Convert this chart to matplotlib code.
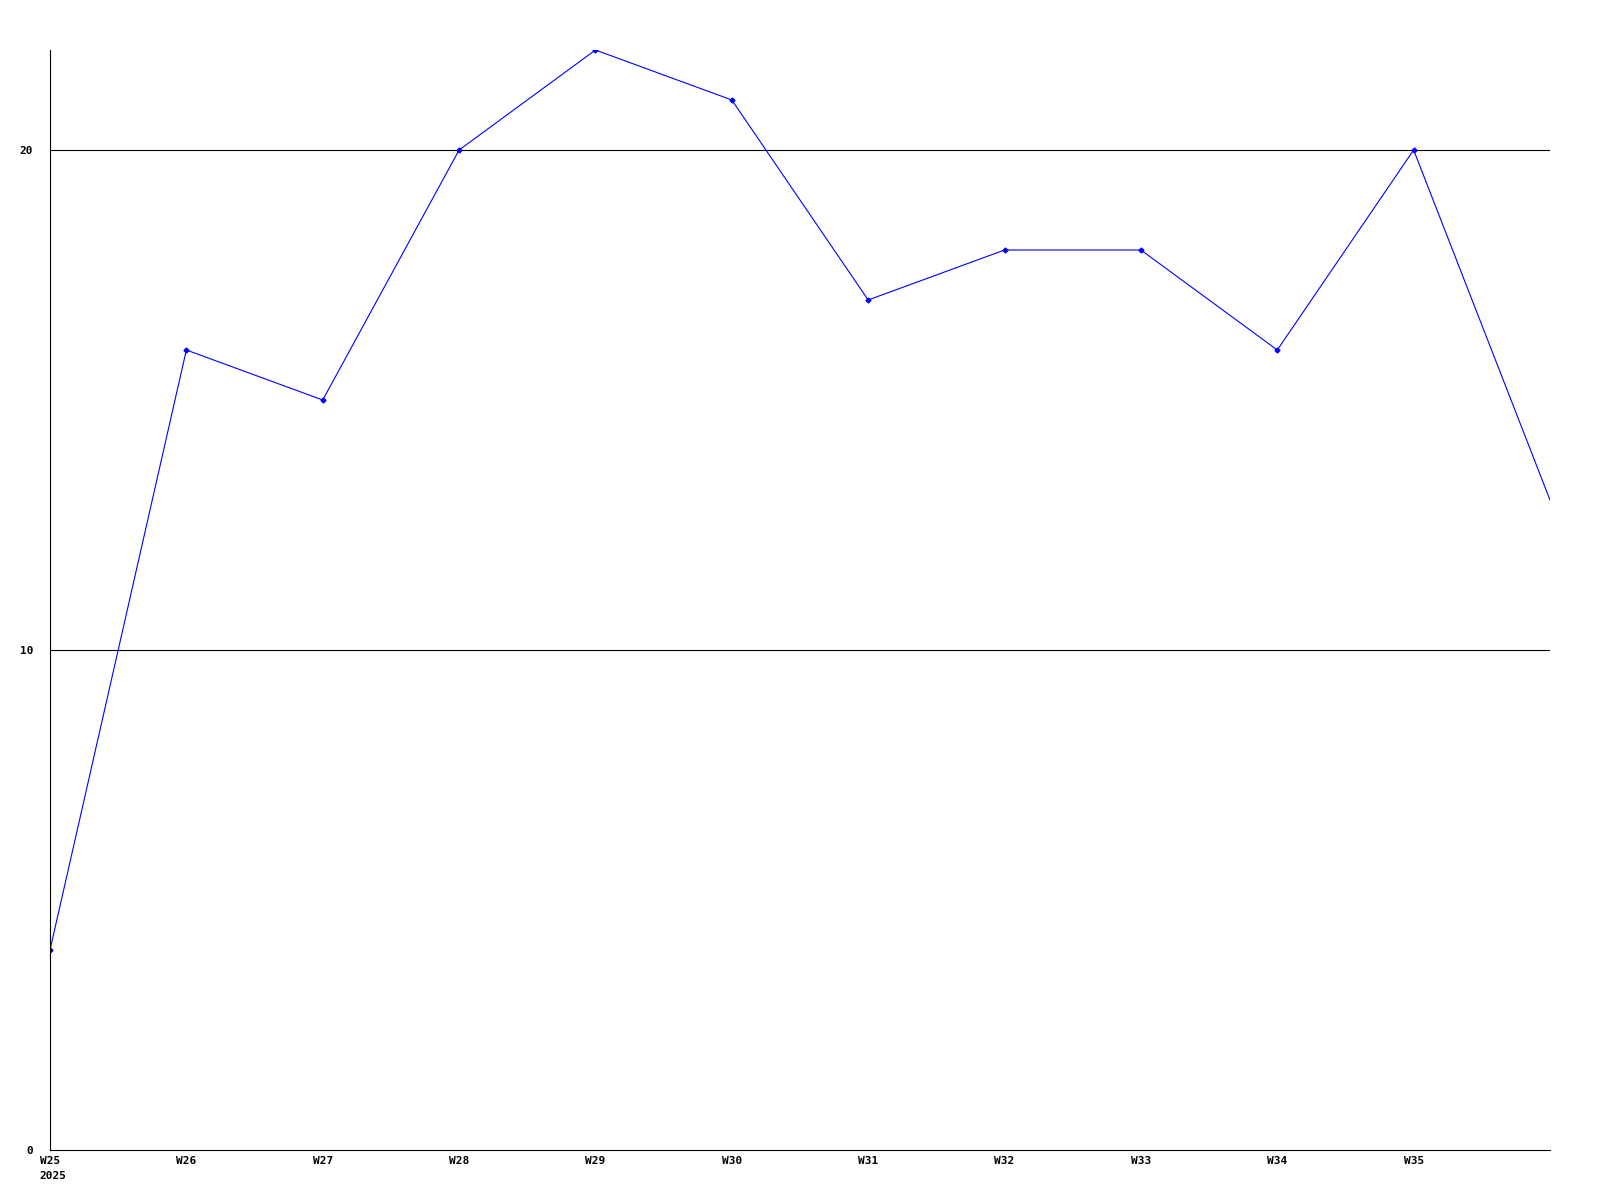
import matplotlib
matplotlib.use("Agg")
import matplotlib.pyplot as plt
from matplotlib.transforms import offset_copy

weeks = ["W25", "W26", "W27", "W28", "W29", "W30", "W31", "W32", "W33", "W34", "W35", "W36"]
values = [4, 16, 15, 20, 22, 21, 17, 18, 18, 16, 20, 13]
y_ticks = [0, 10, 20]

fig = plt.figure(figsize=(16, 12), dpi=100)
ax = fig.add_axes([0.03125, 50 / 1200, 0.9375, 1100 / 1200])

x = list(range(len(weeks)))
ax.plot(x, values, color="#0000ff", linewidth=0.8)
# the last point sits on the right edge with no marker
ax.plot(x[:-1], values[:-1], linestyle="none", marker="D", markersize=2.5, color="#0000ff")

ax.set_xlim(0, len(weeks) - 1)
ax.set_ylim(0, 22)

for y in y_ticks[1:]:
    ax.axhline(y, color="black", linewidth=0.8, zorder=0)

font = dict(family="DejaVu Sans Mono", weight="bold", size=8)
ax.set_xticks(x[:-1])
ax.set_xticklabels(weeks[:-1], **font)
ax.set_yticks(y_ticks)
ax.set_yticklabels([str(v) for v in y_ticks], **font)
ax.tick_params(length=0)
ax.tick_params(axis="y", pad=12)
ax.tick_params(axis="x", pad=4)

ax.text(0, 0, "2025", ha="left", va="top",
        transform=offset_copy(ax.transData, fig=fig, x=-11, y=-21, units="dots"), **font)

for side in ["top", "right"]:
    ax.spines[side].set_visible(False)
ax.spines["left"].set_linewidth(0.8)
ax.spines["bottom"].set_linewidth(0.8)

fig.savefig("out.png", dpi=100)
